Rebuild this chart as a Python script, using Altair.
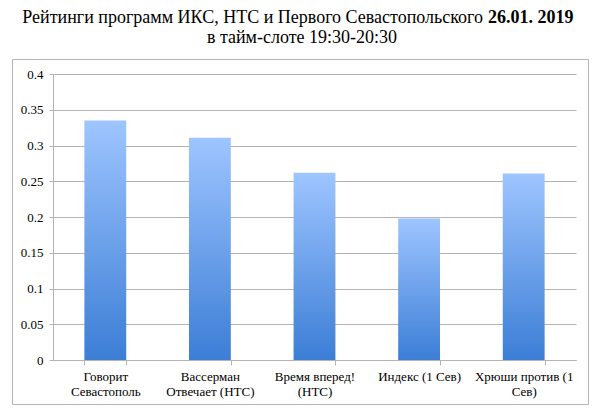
import altair as alt
import pandas as pd

categories = [
    "Говорит Севастополь",
    "Вассерман Отвечает (НТС)",
    "Время вперед! (НТС)",
    "Индекс (1 Сев)",
    "Хрюши против (1 Сев)",
]
label_lines = [
    "Говорит|Севастополь",
    "Вассерман|Отвечает (НТС)",
    "Время вперед!|(НТС)",
    "Индекс (1 Сев)",
    "Хрюши против (1|Сев)",
]
ratings = [0.335, 0.311, 0.262, 0.198, 0.261]
y_ticks = [0, 0.05, 0.1, 0.15, 0.2, 0.25, 0.3, 0.35, 0.4]

title_main = "Рейтинги программ ИКС, НТС и Первого Севастопольского"
title_bold = "26.01. 2019"
title_sub = "в тайм-слоте 19:30-20:30"

FONT = "Liberation Serif"
GRAY = "#b4b4b4"

df = pd.DataFrame({"cat": categories, "label": label_lines, "value": ratings})
label_map = {c: l for c, l in zip(categories, label_lines)}
label_expr = " : ".join(
    [f"datum.label == '{c}' ? split('{l}', '|')" for c, l in label_map.items()]
) + " : datum.label"

W, H = 523, 286

gradient = alt.Gradient(
    gradient="linear",
    stops=[
        alt.GradientStop(color="#9ec5ff", offset=0),
        alt.GradientStop(color="#3c7ed6", offset=1),
    ],
    x1=0, x2=0, y1=0, y2=1,
)

bars = alt.Chart(df).mark_bar(color=gradient).encode(
    x=alt.X(
        "cat:N",
        sort=categories,
        title=None,
        scale=alt.Scale(paddingInner=0.6, paddingOuter=0.3),
        axis=alt.Axis(
            labelAngle=0,
            labelExpr=label_expr,
            labelFont=FONT,
            labelFontSize=13,
            labelColor="#000000",
            labelLineHeight=15,
            labelPadding=5,
            tickBand="extent",
            tickSize=5,
            tickColor=GRAY,
            domainColor=GRAY,
            grid=False,
        ),
    ),
    y=alt.Y(
        "value:Q",
        title=None,
        scale=alt.Scale(domain=[0, 0.4], nice=False),
        axis=alt.Axis(
            values=y_ticks,
            format=".2~f",
            labelFont=FONT,
            labelFontSize=13,
            labelColor="#000000",
            labelPadding=6,
            tickSize=4,
            tickColor=GRAY,
            domainColor=GRAY,
            gridColor=GRAY,
        ),
    ),
)

one = pd.DataFrame({"a": [1]})

frame = alt.Chart(one).mark_rect(fill="transparent", stroke=GRAY, strokeWidth=1).encode(
    x=alt.value(-40.5), x2=alt.value(535.5), y=alt.value(-14.5), y2=alt.value(330.5)
)

t1 = alt.Chart(pd.DataFrame({"t": [title_main]})).mark_text(
    font=FONT, fontSize=18, align="right", baseline="middle", color="#000000"
).encode(text="t:N", x=alt.value(430), y=alt.value(-56))

t2 = alt.Chart(pd.DataFrame({"t": [title_bold]})).mark_text(
    font=FONT, fontSize=18, fontWeight="bold", align="left", baseline="middle", color="#000000"
).encode(text="t:N", x=alt.value(435), y=alt.value(-56))

t3 = alt.Chart(pd.DataFrame({"t": [title_sub]})).mark_text(
    font=FONT, fontSize=18, align="center", baseline="middle", color="#000000"
).encode(text="t:N", x=alt.value(249), y=alt.value(-36))

chart = (
    alt.layer(frame, bars, t1, t2, t3)
    .properties(
        width=W,
        height=H,
        autosize=alt.AutoSizeParams(type="none"),
        padding={"left": 45, "top": 66, "right": 16, "bottom": 50},
        background="#ffffff",
    )
    .configure_view(stroke=None)
)

chart.save("out.html", embed_options={"renderer": "svg", "actions": False})
